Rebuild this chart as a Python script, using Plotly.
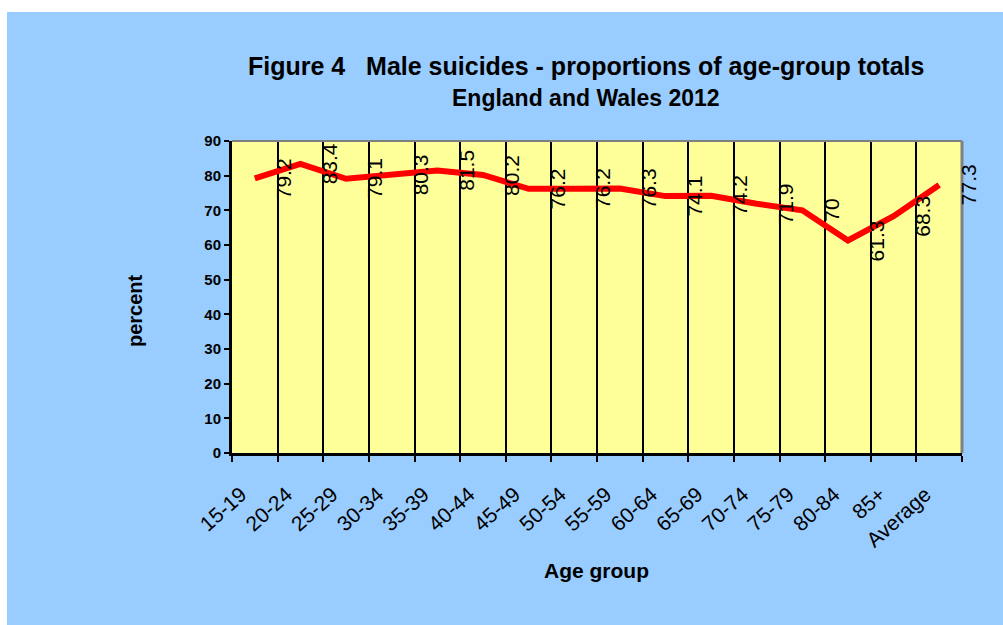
import plotly.graph_objects as go

# Age groups (category axis) and male share of suicides, percent
age_groups = ["15-19", "20-24", "25-29", "30-34", "35-39", "40-44", "45-49",
              "50-54", "55-59", "60-64", "65-69", "70-74", "75-79", "80-84",
              "85+", "Average"]
male_pct = [79.2, 83.4, 79.1, 80.3, 81.5, 80.2, 76.2, 76.2, 76.3, 74.1,
            74.2, 71.9, 70, 61.3, 68.3, 77.3]
y_ticks = [0, 10, 20, 30, 40, 50, 60, 70, 80, 90]

W, H = 1003, 625
L, R, T, B = 232, 41, 141, 172
PW, PH = W - L - R, H - T - B

FONT = "Liberation Sans, Arial, sans-serif"
BLUE = "#99CCFF"
YELLOW = "#FFFF99"

n = len(age_groups)
x_centers = [i + 0.5 for i in range(n)]

fig = go.Figure()
fig.add_trace(go.Scatter(
    x=x_centers, y=male_pct, mode="lines",
    line=dict(color="#FF0000", width=6),
    hoverinfo="skip", showlegend=False,
))

# Value labels, rotated, to the right of each point
annotations = []
for xc, v in zip(x_centers, male_pct):
    annotations.append(dict(
        x=xc, y=v, xref="x", yref="y", text=f"{v:g}", showarrow=False,
        textangle=-90, xshift=29, font=dict(family=FONT, size=21, color="black"),
    ))

def px_x(p):
    return (p - L) / PW

def px_y(p):
    return (H - B - p) / PH

annotations += [
    dict(x=px_x(586), y=px_y(66), xref="paper", yref="paper", showarrow=False,
         text="<b>Figure 4   Male suicides - proportions of age-group totals</b>",
         font=dict(family=FONT, size=25, color="black"), xanchor="center", yanchor="middle"),
    dict(x=px_x(586), y=px_y(98), xref="paper", yref="paper", showarrow=False,
         text="<b>England and Wales 2012</b>",
         font=dict(family=FONT, size=23, color="black"), xanchor="center", yanchor="middle"),
    dict(x=px_x(135), y=px_y(311), xref="paper", yref="paper", showarrow=False,
         text="<b>percent</b>", textangle=-90,
         font=dict(family=FONT, size=20, color="black"), xanchor="center", yanchor="middle"),
    dict(x=px_x(596), y=px_y(570), xref="paper", yref="paper", showarrow=False,
         text="<b>Age group</b>",
         font=dict(family=FONT, size=21, color="black"), xanchor="center", yanchor="middle"),
]

shapes = [
    # white strips at the top and left edges of the page
    dict(type="rect", xref="paper", yref="paper", x0=px_x(0), x1=px_x(W), y0=px_y(12), y1=px_y(0),
         fillcolor="white", line=dict(width=0), layer="below"),
    dict(type="rect", xref="paper", yref="paper", x0=px_x(0), x1=px_x(7), y0=px_y(H), y1=px_y(0),
         fillcolor="white", line=dict(width=0), layer="below"),
    # grey top and right border of the plot area
    dict(type="line", xref="paper", yref="paper", x0=0, x1=1, y0=1, y1=1,
         line=dict(color="#808080", width=2)),
    dict(type="line", xref="paper", yref="paper", x0=1, x1=1, y0=0, y1=1,
         line=dict(color="#808080", width=3)),
]

fig.update_layout(
    width=W, height=H,
    margin=dict(l=L, r=R, t=T, b=B, pad=0),
    paper_bgcolor=BLUE, plot_bgcolor=YELLOW,
    annotations=annotations, shapes=shapes,
    showlegend=False,
    xaxis=dict(
        range=[0, n], tickmode="array",
        tickvals=list(range(n + 1)),
        ticktext=age_groups + [""],
        tickangle=-42,
        showgrid=True, gridcolor="black", gridwidth=2,
        showline=True, linecolor="black", linewidth=3,
        ticks="outside", ticklen=6, tickwidth=2, tickcolor="black",
        ticklabelstandoff=12, ticklabelshift=9,
        tickfont=dict(family=FONT, size=21, color="black"),
        zeroline=False, fixedrange=True,
    ),
    yaxis=dict(
        range=[0, 90], tickmode="array", tickvals=y_ticks,
        showgrid=False,
        showline=True, linecolor="black", linewidth=3,
        ticks="outside", ticklen=5, tickwidth=2, tickcolor="black",
        tickfont=dict(family=FONT, size=15, color="black", weight="bold"),
        zeroline=False, fixedrange=True,
    ),
)

fig.write_html("out.html")
